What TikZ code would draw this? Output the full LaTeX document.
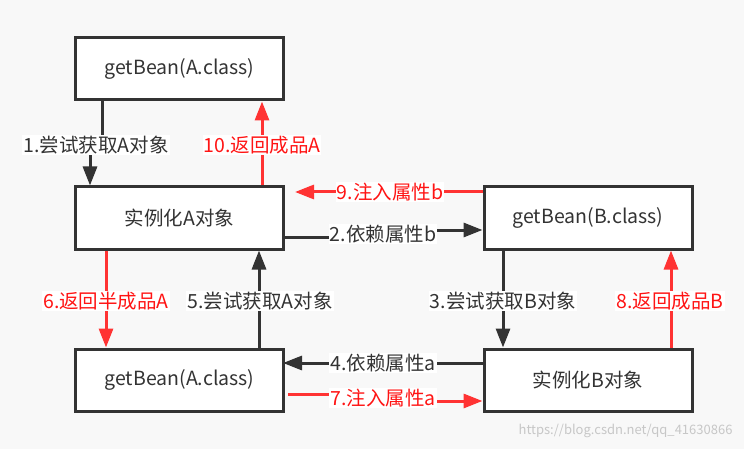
\documentclass[tikz,border=0pt]{standalone}
\usepackage{fontspec}
\setmainfont{Noto Sans CJK SC}
\usetikzlibrary{arrows.meta}
\definecolor{bg}{RGB}{248,248,248}
\definecolor{dk}{RGB}{51,51,51}
\definecolor{rd}{RGB}{255,51,51}
\definecolor{rt}{RGB}{255,20,20}
\tikzset{
  box/.style={draw=dk, line width=3pt, fill=white, minimum width=208pt, minimum height=62pt, inner sep=0pt, text=dk, font=\fontsize{19.5}{22}\selectfont},
  conn/.style={draw=dk, line width=3pt, -{Triangle[length=19pt,width=14pt]}},
  rconn/.style={draw=rd, line width=3pt, -{Triangle[length=19pt,width=14pt]}},
  lbl/.style={fill=white, inner sep=1pt, text=dk, font=\fontsize{19.5}{22}\selectfont},
  rlbl/.style={lbl, text=rt},
}
\begin{document}
\begin{tikzpicture}[x=1pt,y=-1pt]
\fill[bg] (0,0) rectangle (744,449);
\useasboundingbox (0,0) rectangle (744,449);
\node[box] (b1) at (179.5,69) {getBean(A.class)};
\node[box] (b2) at (179.5,218) {实例化A对象};
\node[box] (b3) at (588,218) {getBean(B.class)};
\node[box] (b4) at (179.5,380) {getBean(A.class)};
\node[box] (b5) at (588,380) {实例化B对象};
% label anchors
\coordinate (c1) at (96,145);
\coordinate (c2) at (383,234);
\coordinate (c7) at (383,398);
% connectors
\draw[conn] ([xshift=-77.5pt]b1.south) |- (c1) -| ([xshift=-89.5pt]b2.north);
\draw[rconn] ([xshift=82.5pt]b2.north) -- ([xshift=82.5pt]b1.south);
\draw[rconn] ([yshift=26pt]b3.west) -- ([yshift=26pt,xshift=10pt]b2.east);
\draw[conn] ([yshift=-19pt]b2.east) -| (c2) |- ([yshift=-12pt]b3.west);
\draw[conn] ([xshift=-85pt]b3.south) -- ([xshift=-85pt]b5.north);
\draw[rconn] ([xshift=83pt]b5.north) -- ([xshift=83pt]b3.south);
\draw[rconn] ([xshift=-73.5pt]b2.south) -- ([xshift=-73.5pt]b4.north);
\draw[conn] ([xshift=79.5pt]b4.north) -- ([xshift=79.5pt]b2.south);
\draw[conn] ([yshift=17pt]b5.west) -- ([yshift=17pt,xshift=-2pt]b4.east);
\draw[rconn] ([yshift=-14pt,xshift=3pt]b4.east) -| (c7) |- ([yshift=-21pt]b5.west);
% labels
\node[lbl] (l1) at (c1) {1.尝试获取A对象};
\node[rlbl] (l10) at (262,145) {10.返回成品A};
\node[rlbl] (l9) at (390,192) {9.注入属性b};
\node[lbl] (l2) at (c2) {2.依赖属性b};
\node[lbl] (l3) at (503,301) {3.尝试获取B对象};
\node[rlbl] (l8) at (670,301) {8.返回成品B};
\node[rlbl] (l6) at (106,301) {6.返回半成品A};
\node[lbl] (l5) at (260,301) {5.尝试获取A对象};
\node[lbl] (l4) at (383,363) {4.依赖属性a};
\node[rlbl] (l7) at (c7) {7.注入属性a};
\node[text=black!22, font=\fontsize{13}{15}\selectfont, anchor=east] (wm) at (736,431) {https://blog.csdn.net/qq\_41630866};
\end{tikzpicture}
\end{document}
